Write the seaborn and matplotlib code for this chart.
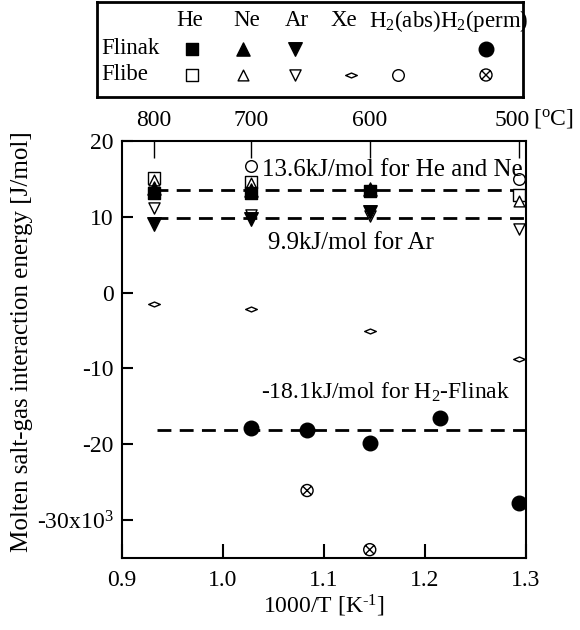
import numpy as np
import pandas as pd
import matplotlib
matplotlib.use("Agg")
import matplotlib.pyplot as plt
from matplotlib.path import Path
from matplotlib.transforms import ScaledTranslation
import seaborn as sns

sns.set_theme(style="white")
plt.rcParams['font.family'] = ['Liberation Serif', 'DejaVu Serif']
plt.rcParams['mathtext.fontset'] = 'custom'
plt.rcParams['mathtext.rm'] = 'Liberation Serif'
plt.rcParams['mathtext.it'] = 'Liberation Serif:italic'
for k in ['text.color', 'axes.labelcolor', 'xtick.color', 'ytick.color', 'axes.edgecolor']:
    plt.rcParams[k] = 'black'

# ---------------- data ----------------
temps_C = [800, 700, 600, 500]
flinak_he_T = [800, 700, 600]
flinak_he = [13.2, 13.1, 13.4]
flinak_ne_T = [800, 700, 600]
flinak_ne = [13.8, 13.5, 13.7]
flinak_ar_T = [800, 700, 600]
flinak_ar = [9.1, 9.7, 10.7]
flibe_he_T = [800, 700, 500]
flibe_he = [15.1, 14.6, 12.9]
flibe_ne_T = [800, 700, 500]
flibe_ne = [14.9, 14.4, 12.1]
flibe_ar_T = [800, 700, 600, 500]
flibe_ar = [11.1, 10.3, 10.1, 8.4]
flibe_xe_T = [800, 700, 600, 500]
flibe_xe = [-1.45, -2.2, -5.0, -8.8]
flibe_h2abs_T = [700, 500]
flibe_h2abs = [16.7, 15.0]
flinak_h2perm_T = [700, 650, 600, 550, 500]
flinak_h2perm = [-17.9, -18.1, -19.8, -16.5, -27.8]
flibe_h2perm_T = [650, 600]
flibe_h2perm = [-26.1, -33.9]

fit_he_ne = 13.6
fit_ar = 9.9
fit_h2 = -18.1

gas_labels = ['He', 'Ne', 'Ar', 'Xe', 'H$_2$(abs)', 'H$_2$(perm)']
salt_labels = ['Flinak', 'Flibe']
yticks = [20, 10, 0, -10, -20, -30]
ytick_labels = ['20', '10', '0', '-10', '-20', '-30x10$^3$']
xticks = [0.9, 1.0, 1.1, 1.2, 1.3]
xtick_labels = ['0.9', '1.0', '1.1', '1.2', '1.3']

def inv(T):
    return 1000.0 / (np.asarray(T, dtype=float) + 273.15)

# --------------- markers ---------------
diamond = Path([(-1, 0), (0, 0.42), (1, 0), (0, -0.42), (-1, 0)],
               [Path.MOVETO, Path.LINETO, Path.LINETO, Path.LINETO, Path.CLOSEPOLY])
circ = Path.unit_circle()
r = 0.72
xl = Path([(-r, -r), (r, r), (-r, r), (r, -r)],
          [Path.MOVETO, Path.LINETO, Path.MOVETO, Path.LINETO])
otimes = Path.make_compound_path(circ, xl)

# (T list, values, marker, size, face) -- Flibe drawn first, Flinak on top
series = [
    (flibe_he_T, flibe_he, 's', 70, 'white'),
    (flibe_ne_T, flibe_ne, '^', 60, 'white'),
    (flibe_ar_T, flibe_ar, 'v', 65, 'white'),
    (flibe_xe_T, flibe_xe, diamond, 70, 'white'),
    (flibe_h2abs_T, flibe_h2abs, 'o', 70, 'white'),
    (flibe_h2perm_T, flibe_h2perm, otimes, 75, 'none'),
    (flinak_ne_T, flinak_ne, '^', 90, 'black'),
    (flinak_he_T, flinak_he, 's', 85, 'black'),
    (flinak_ar_T, flinak_ar, 'v', 95, 'black'),
    (flinak_h2perm_T, flinak_h2perm, 'o', 110, 'black'),
]

W, H = 580, 630
fig = plt.figure(figsize=(W / 100, H / 100), dpi=100)

def frac(x0, y0, x1, y1):
    return [x0 / W, 1 - y1 / H, (x1 - x0) / W, (y1 - y0) / H]

ax = fig.add_axes(frac(122, 141, 526, 558))
FS = 17
AFS = 18

for T, v, m, s, fc in series:
    sns.scatterplot(x=inv(T), y=v, marker=m, s=s, color=fc if fc != 'none' else 'white',
                    edgecolor='black', linewidth=1.0, ax=ax, zorder=3, legend=False)
    if fc == 'none':
        ax.collections[-1].set_facecolor('none')

x0 = inv(800)
ax.plot([x0, 1.3], [fit_he_ne, fit_he_ne], color='black', lw=2, ls=(0, (5, 3)), zorder=2)
ax.plot([x0, 1.3], [fit_ar, fit_ar], color='black', lw=2, ls=(0, (5, 3)), zorder=2)
ax.plot([0.935, 1.3], [fit_h2, fit_h2], color='black', lw=2, ls=(0, (5, 3)), zorder=2)

ax.text(1.0386, 16.2, '%.1fkJ/mol for He and Ne' % fit_he_ne, fontsize=AFS, va='center', ha='left')
ax.text(1.0446, 6.6, '%.1fkJ/mol for Ar' % fit_ar, fontsize=AFS, va='center', ha='left')
ax.text(1.0376, -13.2, '%.1fkJ/mol for H$_2$-Flinak' % fit_h2, fontsize=17, va='center', ha='left')

ax.set_xlim(0.9, 1.3)
ax.set_ylim(-35, 20)
ax.set_xticks(xticks)
ax.set_xticklabels(xtick_labels, fontsize=FS)
ax.set_yticks(yticks)
ax.set_yticklabels(ytick_labels, fontsize=FS)
ax.tick_params(axis='x', direction='in', length=10, width=1.5, pad=9, top=False, bottom=True)
ax.tick_params(axis='y', direction='in', length=8, width=1.5, pad=6, left=True, right=False)
ax.set_xlabel('1000/T [K$^{\\text{-}1}$]', fontsize=FS, labelpad=1)
ax.set_ylabel('Molten salt-gas interaction energy [J/mol]', fontsize=18)
ax.yaxis.set_label_coords(-0.22, 0.518)
for sp in ax.spines.values():
    sp.set_visible(True)
    sp.set_linewidth(1.5)
    sp.set_color('black')

# top temperature axis
ax2 = ax.twiny()
ax2.set_xlim(ax.get_xlim())
ax2.set_xticks(inv(temps_C))
ax2.set_xticklabels([str(t) for t in temps_C], fontsize=FS)
ax2.tick_params(axis='x', direction='in', length=12, width=1.0, pad=7, colors='black')
for sp in ax2.spines.values():
    sp.set_visible(False)
last = ax2.get_xticklabels()[-1]
last.set_transform(last.get_transform() + ScaledTranslation(-7 / 100, 0, fig.dpi_scale_trans))
fig.text(533 / W, 1 - 118 / H, '[$^{\\rm o}$C]', fontsize=FS, ha='left', va='center')

# ---------------- legend box ----------------
lx = fig.add_axes(frac(97, 2, 523, 97))
lx.set_xlim(97, 523)
lx.set_ylim(97, 2)
lx.set_xticks([])
lx.set_yticks([])
for sp in lx.spines.values():
    sp.set_visible(True)
    sp.set_linewidth(2)
    sp.set_color('black')
lx.set_facecolor('white')

LFS = 16.5
head_x = [190, 247, 297, 344, 405, 484]
for gx, g in zip(head_x, gas_labels):
    lx.text(gx, 21, g, fontsize=LFS, ha='center', va='center')
row_y = [49, 75]
for ry, s in zip(row_y, salt_labels):
    lx.text(101, ry, s, fontsize=LFS, ha='left', va='center')

mk_x = [192, 243, 295, 351, 398, 486]
flinak_leg = [('s', 85, 'black', 0), ('^', 90, 'black', 1), ('v', 95, 'black', 2), ('o', 110, 'black', 5)]
flibe_leg = [('s', 70, 'white', 0), ('^', 60, 'white', 1), ('v', 65, 'white', 2),
             (diamond, 70, 'white', 3), ('o', 70, 'white', 4), (otimes, 75, 'none', 5)]
for (m, s, fc, i) in flinak_leg:
    lx.scatter([mk_x[i]], [row_y[0]], marker=m, s=s, c=fc, edgecolors='black', linewidths=1.0)
for (m, s, fc, i) in flibe_leg:
    lx.scatter([mk_x[i]], [row_y[1]], marker=m, s=s, facecolors=fc, edgecolors='black', linewidths=1.0)

fig.savefig('out.png', dpi=100)
